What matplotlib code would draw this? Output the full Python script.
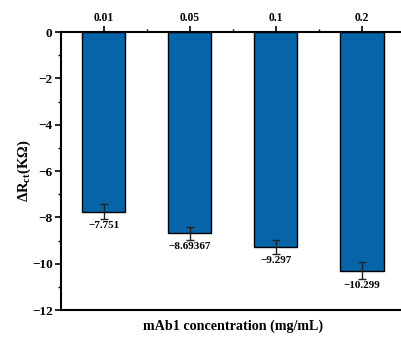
import matplotlib
matplotlib.use("Agg")
import matplotlib.pyplot as plt
from matplotlib.ticker import MultipleLocator

plt.rcParams['font.family'] = ['Liberation Serif', 'DejaVu Serif']
plt.rcParams['font.weight'] = 'bold'
plt.rcParams['mathtext.fontset'] = 'custom'
plt.rcParams['mathtext.rm'] = 'Liberation Serif:bold'
plt.rcParams['mathtext.it'] = 'Liberation Serif:bold'
plt.rcParams['mathtext.bf'] = 'Liberation Serif:bold'

concentrations = ["0.01", "0.05", "0.1", "0.2"]
delta_rct = [-7.751, -8.69367, -9.297, -10.299]
errors = [0.33, 0.28, 0.30, 0.38]
value_labels = ["\u22127.751", "\u22128.69367", "\u22129.297", "\u221210.299"]

fig = plt.figure(figsize=(4.01, 3.37), dpi=100)
ax = fig.add_axes([0.152, 0.080, 0.858, 0.825])

pos = list(range(1, len(concentrations) + 1))
ax.bar(pos, delta_rct, width=0.5, color='#0565A8', edgecolor='black', linewidth=1.0,
       yerr=errors, error_kw=dict(ecolor='#222222', elinewidth=1.0, capsize=3, capthick=1.0))

for x, v, e, lab in zip(pos, delta_rct, errors, value_labels):
    ax.text(x, v - e - 0.08, lab, ha='center', va='top', fontsize=8, fontweight='bold')

ax.set_xlim(0.5, 4.5)
ax.set_ylim(-12, 0)

ax.xaxis.tick_top()
ax.set_xticks(pos)
ax.set_xticklabels(concentrations)
ax.set_xticks([1.5, 2.5, 3.5], minor=True)
ax.yaxis.set_major_locator(MultipleLocator(2))
ax.yaxis.set_minor_locator(MultipleLocator(1))
ax.tick_params(axis='both', which='major', length=4, width=1.2, pad=2)
ax.tick_params(axis='x', which='major', labelsize=8.3)
ax.tick_params(axis='y', which='major', labelsize=9.5)
ax.tick_params(axis='both', which='minor', length=2.5, width=1.0)
ax.tick_params(axis='x', which='both', top=True, bottom=False)

for name in ('top', 'bottom', 'left'):
    ax.spines[name].set_linewidth(1.5)
ax.spines['right'].set_visible(False)

ax.set_xlabel("mAb1 concentration (mg/mL)", fontsize=10.2, fontweight='bold')
ax.xaxis.set_label_position('bottom')
ax.xaxis.labelpad = 7
ax.set_ylabel(r"$\Delta$R$_{ct}$(K$\Omega$)", fontsize=10.5, fontweight='bold', labelpad=-1)

fig.savefig("out.png", dpi=100)
